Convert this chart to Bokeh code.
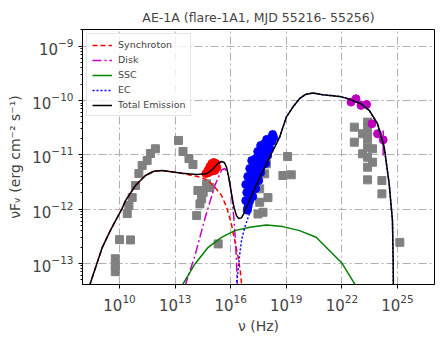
import numpy as np
from bokeh.plotting import figure
from bokeh.models import FixedTicker, Legend, LegendItem
from bokeh.embed import file_html
from bokeh.resources import INLINE

# ---- data (log10 values) ----
# archival data (gray squares)
arch_lognu = [9.769, 9.769, 9.769, 10.0, 10.591,
              10.414, 10.505, 10.683, 10.860, 11.043, 11.220, 11.489, 11.667, 11.935,
              13.183, 13.425, 13.747, 13.962,
              14.699, 14.516, 14.430, 14.339, 14.161, 14.231, 14.876, 15.323,
              19.070, 18.817, 19.269,
              17.925, 17.833, 17.564, 18.011, 17.564, 17.473, 17.742,
              22.672, 22.672, 23.118, 23.387, 23.387, 23.387, 23.387, 23.118, 23.656,
              23.387, 23.656, 23.387, 23.387, 24.161, 24.161, 25.129]
arch_logf = [-12.914, -13.043, -13.154, -12.563, -12.568,
             -12.083, -11.935, -11.788, -11.566, -11.345, -11.197, -11.105, -10.975, -10.888,
             -10.735, -10.938, -11.068, -11.178,
             -11.535, -11.690, -11.812, -11.904, -12.120, -11.658, -11.603, -12.642,
             -11.031, -11.381, -11.368,
             -11.166, -11.350, -11.627, -11.788, -11.874, -12.089, -12.059,
             -10.490, -10.767, -10.612, -10.397, -10.551, -10.704, -10.859, -10.981, -10.888,
             -11.044, -11.136, -11.228, -11.461, -11.474, -11.719, -12.613]

# optical / UV (red)
opt_lognu = [14.769, 14.876, 14.984, 15.091, 15.199, 15.253, 15.038, 14.823, 14.661, 15.145, 15.2, 14.95]
opt_logf = [-11.289, -11.215, -11.160, -11.142, -11.160, -11.234, -11.252, -11.326, -11.345, -11.289, -11.2, -11.3]

# X-ray (blue)
xr_lognu = [16.919, 16.812, 17.027, 17.188, 16.866, 17.081, 17.349, 16.812, 17.027, 17.296,
            17.511, 16.919, 17.134, 17.403, 17.618, 17.027, 17.242, 17.457, 17.726, 17.887,
            17.134, 17.349, 17.564, 17.780, 17.995, 17.457, 17.672, 17.887, 18.102, 17.618,
            17.833, 18.048, 18.210, 17.941, 18.156, 18.317, 18.263, 17.726, 17.296, 16.973,
            16.90, 16.95]
xr_logf = [-11.972, -11.843, -11.843, -11.769, -11.695, -11.658, -11.622, -11.548, -11.511, -11.492,
           -11.474, -11.400, -11.363, -11.345, -11.326, -11.252, -11.215, -11.197, -11.178, -11.160,
           -11.105, -11.068, -11.049, -11.031, -11.012, -10.938, -10.920, -10.902, -10.883, -10.828,
           -10.791, -10.772, -10.754, -10.717, -10.699, -10.680, -10.625, -10.994, -11.289, -11.585,
           -12.02, -11.92]

# gamma-ray (magenta)
gam_lognu = [22.495, 22.763, 23.032, 23.333, 23.624, 23.925, 24.231]
gam_logf = [-10.028, -9.966, -10.089, -10.071, -10.427, -10.612, -10.723]
gam_logf_lo = [-10.06, -9.99, -10.12, -10.10, -10.47, -10.68, -11.012]
gam_logf_hi = [-10.00, -9.94, -10.06, -10.04, -10.39, -10.55, -10.551]

# model curves
tot_lognu = [8.37, 9.07, 9.50, 9.785, 10.129, 10.323, 10.860, 11.398, 11.849, 12.296, 13.371,
             14.161, 14.699, 15.054, 15.306, 15.505, 15.656, 15.774, 15.898, 16.043, 16.167,
             16.312, 16.435, 16.581, 16.704, 16.849, 17.564, 18.280, 18.640, 19.000, 19.355,
             19.715, 20.038, 20.430, 20.968, 21.866, 22.226, 23.032, 23.478, 23.925, 24.285,
             24.554, 24.731, 24.769, 24.780]
tot_logf = [-13.42, -12.705, -12.397, -12.212, -11.996, -11.843, -11.566, -11.381, -11.302, -11.289, -11.339,
            -11.363, -11.350, -11.258, -11.160, -11.123, -11.142, -11.228, -11.418, -11.719, -11.954,
            -12.120, -12.175, -12.162, -12.083, -11.967, -11.413, -10.920, -10.675, -10.305, -10.120,
            -9.966, -9.886, -9.862, -9.892, -9.923, -9.955, -10.058, -10.182, -10.427, -10.859,
            -11.535, -12.212, -12.951, -13.42]

syn_lognu = [8.37, 9.07, 9.50, 9.785, 10.129, 10.323, 10.860, 11.398, 11.849, 12.296, 13.371,
             13.892, 14.430, 14.785, 15.145, 15.505, 15.790, 16.043, 16.220, 16.382, 16.516, 16.597]
syn_logf = [-13.42, -12.705, -12.397, -12.212, -11.996, -11.843, -11.566, -11.381, -11.302, -11.289, -11.339,
            -11.381, -11.418, -11.474, -11.598, -11.750, -11.972, -12.286, -12.581, -12.858, -13.135, -13.42]

disk_lognu = [13.532, 14.070, 14.608, 15.145, 15.505, 15.683, 15.860, 16.032, 16.167, 16.274, 16.328, 16.355]
disk_logf = [-13.42, -12.858, -12.175, -11.566, -11.280, -11.252, -11.363, -11.658, -12.157, -12.674, -13.135, -13.42]

ssc_lognu = [13.355, 14.070, 14.785, 15.505, 16.220, 17.027, 17.925, 18.817, 19.715, 20.613, 22.011, 22.763]
ssc_logf = [-13.42, -13.011, -12.705, -12.520, -12.397, -12.336, -12.292, -12.323, -12.397, -12.520, -13.000, -13.42]

ec_lognu = [16.301, 16.398, 16.489, 16.581, 16.758, 17.027, 17.296, 17.564, 18.280, 18.640, 19.000,
            19.355, 19.715, 20.038, 20.430, 20.968, 21.866, 22.226, 23.032, 23.478, 23.925, 24.285,
            24.554, 24.731, 24.769, 24.780]
ec_logf = [-13.42, -13.135, -12.827, -12.581, -12.336, -12.065, -11.769, -11.437, -10.920, -10.675, -10.305,
           -10.120, -9.966, -9.886, -9.862, -9.892, -9.923, -9.955, -10.058, -10.182, -10.427, -10.859,
           -11.535, -12.212, -12.951, -13.42]

x_ticks = [1e10, 1e13, 1e16, 1e19, 1e22, 1e25]
y_ticks = [1e-13, 1e-12, 1e-11, 1e-10, 1e-9]


def lin(a):
    return 10 ** np.asarray(a, dtype=float)


p = figure(frame_width=352, frame_height=255, x_axis_type="log", y_axis_type="log",
           x_range=(1e8, 1e27), y_range=(10 ** -13.39, 10 ** -8.69),
           output_backend="svg", toolbar_location=None,
           title="AE-1A (flare-1A1, MJD 55216- 55256)",
           min_border_left=82, min_border_right=10, min_border_top=29, min_border_bottom=61)

p.title.align = "center"
p.title.text_font = "DejaVu Sans"
p.title.text_font_size = "12.5px"
p.title.text_font_style = "normal"

p.xaxis.ticker = FixedTicker(ticks=x_ticks, minor_ticks=[])
p.yaxis.ticker = FixedTicker(ticks=y_ticks,
                             minor_ticks=[k * 10.0 ** e for e in range(-14, -8) for k in range(2, 10)])

for ax in (p.xaxis[0], p.yaxis[0]):
    ax.axis_line_color = "black"
    ax.major_tick_line_color = "black"
    ax.minor_tick_line_color = "black"
    ax.major_tick_out = 4
    ax.major_tick_in = 0
    ax.minor_tick_out = 2
    ax.minor_tick_in = 0
    ax.major_label_text_font = "DejaVu Sans"
    ax.major_label_text_font_size = "15px"
    ax.axis_label_text_font = "DejaVu Sans"
    ax.axis_label_text_font_size = "14px"
    ax.axis_label_text_font_style = "normal"

p.xaxis.axis_label = "ν (Hz)"
p.yaxis.axis_label = "νFᵥ (erg cm⁻² s⁻¹)"
p.xaxis.axis_label_standoff = 4
p.yaxis.axis_label_standoff = 6

p.grid.grid_line_color = "#b0b0b0"
p.grid.grid_line_dash = "8 3 2 3"
p.grid.grid_line_width = 1
p.outline_line_color = "black"
p.outline_line_alpha = 1
p.outline_line_width = 1

# data points
p.scatter(lin(arch_lognu), lin(arch_logf), marker="square", size=8, color="#808080")
p.segment(lin(gam_lognu), lin(gam_logf_lo), lin(gam_lognu), lin(gam_logf_hi), color="#bf00bf", line_width=1.5)
p.scatter(lin(opt_lognu), lin(opt_logf), marker="circle", size=8, color="red")
p.scatter(lin(xr_lognu), lin(xr_logf), marker="circle", size=8, color="blue")
p.scatter(lin(gam_lognu), lin(gam_logf), marker="circle", size=8, color="#bf00bf")

# model curves
r_syn = p.line(lin(syn_lognu), lin(syn_logf), color="red", line_width=1.5, line_dash="5 3")
r_disk = p.line(lin(disk_lognu), lin(disk_logf), color="#bf00bf", line_width=1.5, line_dash="9 3 2 3")
r_ssc = p.line(lin(ssc_lognu), lin(ssc_logf), color="green", line_width=1.5)
r_ec = p.line(lin(ec_lognu), lin(ec_logf), color="blue", line_width=1.5, line_dash="2 2")
r_tot = p.line(lin(tot_lognu), lin(tot_logf), color="black", line_width=1.5)

legend = Legend(items=[
    LegendItem(label="Synchroton", renderers=[r_syn]),
    LegendItem(label="Disk", renderers=[r_disk]),
    LegendItem(label="SSC", renderers=[r_ssc]),
    LegendItem(label="EC", renderers=[r_ec]),
    LegendItem(label="Total Emission", renderers=[r_tot]),
], location="top_left")
legend.label_text_font = "DejaVu Sans"
legend.label_text_font_size = "9.5px"
legend.glyph_width = 20
legend.glyph_height = 10
legend.label_height = 10
legend.spacing = 4
legend.padding = 5
legend.margin = 4
legend.label_standoff = 6
legend.border_line_color = "#cccccc"
legend.border_line_width = 1
legend.background_fill_alpha = 0.8
p.add_layout(legend)

open("out.html", "w").write(file_html(p, INLINE))
